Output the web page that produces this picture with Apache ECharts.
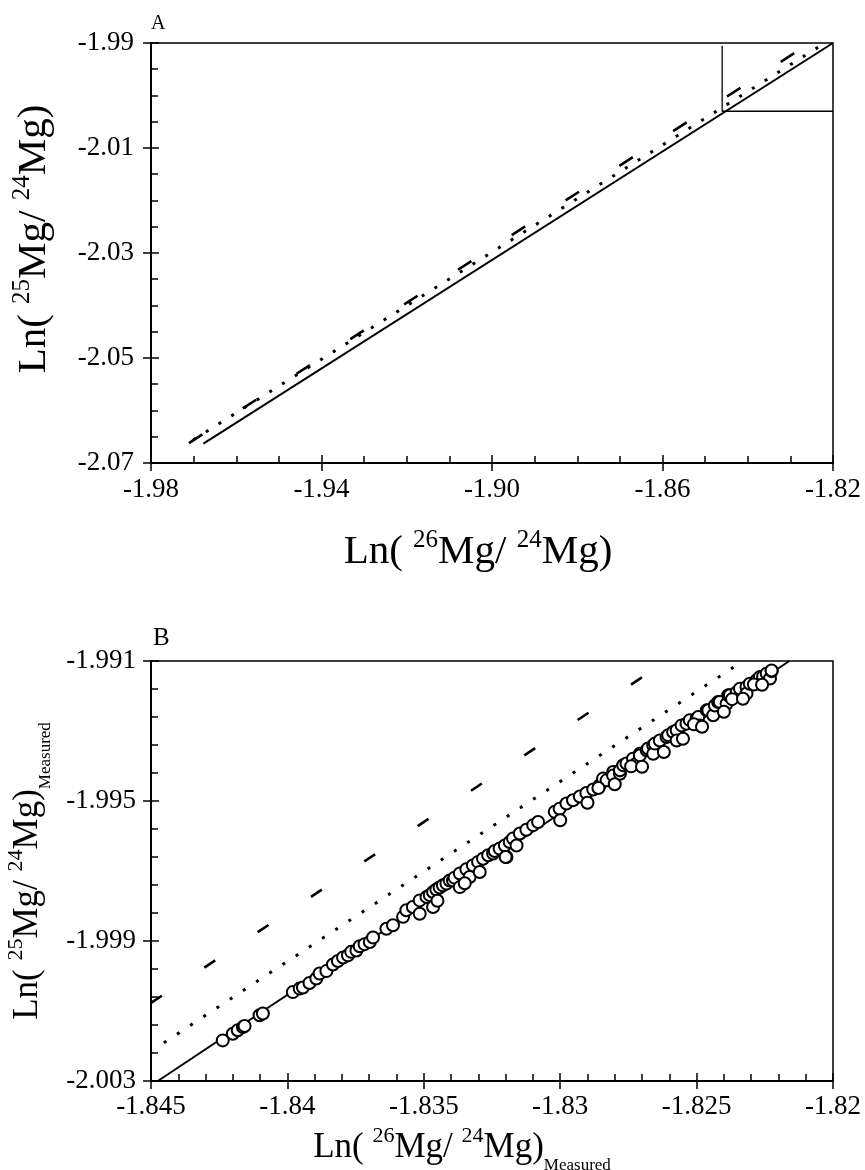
<!DOCTYPE html>
<html><head><meta charset="utf-8">
<script src="https://cdn.jsdelivr.net/npm/echarts@6/dist/echarts.min.js"></script>
<style>html,body{margin:0;padding:0;background:#fff}#c{width:865px;height:1170px}</style>
</head><body><div id="c"></div>
<script>
// ---- tick labels ----
const xTicksA = ['-1.98','-1.94','-1.90','-1.86','-1.82'];
const yTicksA = ['-1.99','-2.01','-2.03','-2.05','-2.07'];
const xTicksB = ['-1.845','-1.84','-1.835','-1.83','-1.825','-1.82'];
const yTicksB = ['-1.991','-1.995','-1.999','-2.003'];

// ---- panel A lines (endpoints [ln26, ln25]) ----
const lineA_solid  = [[-1.9677,-2.0663],[-1.8200,-1.9900]];
const lineA_dashed = [[-1.9711,-2.0662],[-1.8254,-1.9900]];
const lineA_dotted = [[-1.9701,-2.0656],[-1.8219,-1.9900]];
const insetBox     = [[-1.8460,-1.9905],[-1.8460,-2.0030],[-1.8200,-2.0030]];

// ---- panel B lines ----
const lineB_solid  = [[-1.84475,-2.0030],[-1.8216,-1.9910]];
const lineB_dashed = [[-1.8450,-2.00077],[-1.8261,-1.9910]];
const lineB_dotted = [[-1.84453,-2.00191],[-1.8233,-1.9910]];

// ---- panel B measured points ----
const measuredX = [
-1.84237,-1.84200,-1.84182,-1.84163,-1.84157,-1.84102,-1.84090,
-1.83980,-1.83955,-1.83943,-1.83919,-1.83894,-1.83882,-1.83857,-1.83833,-1.83815,-1.83796,-1.83778,
-1.83766,-1.83747,-1.83735,-1.83717,-1.83698,-1.83686,-1.83637,-1.83613,-1.83576,-1.83564,-1.83540,
-1.83515,-1.83515,-1.83490,-1.83478,-1.83466,-1.83466,-1.83454,-1.83442,-1.83430,-1.83417,-1.83405,
-1.83393,-1.83387,-1.83368,-1.83368,-1.83344,-1.83332,-1.83320,-1.83301,-1.83295,-1.83283,-1.83264,
-1.83246,-1.83240,-1.83222,-1.83203,-1.83197,-1.83185,-1.83173,-1.83160,-1.83148,-1.83124,-1.83099,
-1.83081,-1.83020,-1.83002,-1.82977,-1.82953,-1.82928,-1.82904,-1.82879,-1.82855,-1.82843,-1.82830,
-1.82806,-1.82806,-1.82781,-1.82781,-1.82769,-1.82757,-1.82733,-1.82720,-1.82708,-1.82708,-1.82683,
-1.82678,-1.82659,-1.82659,-1.82653,-1.82635,-1.82610,-1.82604,-1.82586,-1.82573,-1.82573,-1.82555,
-1.82537,-1.82525,-1.82500,-1.82494,-1.82488,-1.82463,-1.82457,-1.82439,-1.82433,-1.82421,-1.82415,
-1.82390,-1.82384,-1.82378,-1.82353,-1.82341,-1.82317,-1.82317,-1.82305,-1.82280,-1.82268,-1.82268,
-1.82256,-1.82243,-1.82231,-1.82225,-1.82225,
-1.83450,-1.83350,-1.83200,-1.83000,-1.82900,-1.82860,-1.82800,-1.82740,-1.82700,-1.82620,
-1.82550,-1.82510,-1.82480,-1.82400,-1.82370,-1.82330,-1.82290,-1.82260
];
const measuredY = [
-2.00184,-2.00165,-2.00155,-2.00146,-2.00143,-2.00112,-2.00107,
-2.00046,-2.00036,-2.00033,-2.00020,-2.00007,-1.99993,-1.99986,-1.99967,-1.99957,-1.99947,-1.99941,
-1.99931,-1.99927,-1.99915,-1.99909,-1.99903,-1.99890,-1.99865,-1.99855,-1.99831,-1.99812,-1.99803,
-1.99784,-1.99822,-1.99774,-1.99769,-1.99760,-1.99803,-1.99753,-1.99747,-1.99741,-1.99736,-1.99727,
-1.99727,-1.99719,-1.99707,-1.99746,-1.99695,-1.99717,-1.99684,-1.99674,-1.99703,-1.99665,-1.99655,
-1.99650,-1.99643,-1.99636,-1.99627,-1.99660,-1.99617,-1.99607,-1.99627,-1.99593,-1.99582,-1.99569,
-1.99560,-1.99531,-1.99522,-1.99507,-1.99498,-1.99487,-1.99477,-1.99467,-1.99455,-1.99436,-1.99441,
-1.99417,-1.99427,-1.99422,-1.99412,-1.99398,-1.99393,-1.99379,-1.99393,-1.99365,-1.99370,-1.99355,
-1.99350,-1.99341,-1.99365,-1.99336,-1.99327,-1.99317,-1.99312,-1.99303,-1.99298,-1.99327,-1.99284,
-1.99279,-1.99269,-1.99265,-1.99260,-1.99284,-1.99241,-1.99241,-1.99255,-1.99227,-1.99217,-1.99217,
-1.99222,-1.99198,-1.99198,-1.99189,-1.99179,-1.99174,-1.99193,-1.99165,-1.99155,-1.99146,-1.99165,
-1.99144,-1.99136,-1.99150,-1.99129,-1.99127,
-1.99785,-1.99735,-1.99660,-1.99555,-1.99505,-1.99463,-1.99452,-1.99401,-1.99402,-1.99360,
-1.99322,-1.99281,-1.99288,-1.99245,-1.99209,-1.99208,-1.99167,-1.99168
];

const FONT = '"Liberation Serif", "Times New Roman", serif';
function labelFrom(list) {
  return function (v) {
    let best = list[0], bd = Infinity;
    for (const s of list) { const d = Math.abs(parseFloat(s) - v); if (d < bd) { bd = d; best = s; } }
    return best;
  };
}
const richName = {
  m: { fontFamily: FONT, fontSize: 41, color: '#000', lineHeight: 48, verticalAlign: 'bottom' },
  s: { fontFamily: FONT, fontSize: 25, color: '#000', lineHeight: 48, verticalAlign: 'top', padding: [3, 0, 0, 0] }
};
const richNameB = {
  m: { fontFamily: FONT, fontSize: 35, color: '#000', lineHeight: 44, verticalAlign: 'bottom' },
  s: { fontFamily: FONT, fontSize: 22, color: '#000', lineHeight: 44, verticalAlign: 'top', padding: [4, 0, 0, 0] },
  b: { fontFamily: FONT, fontSize: 17, color: '#000', lineHeight: 44, verticalAlign: 'bottom', padding: [0, 0, -9, 0] }
};

function mainAxis(opts) {
  return Object.assign({
    type: 'value', scale: true,
    axisLine: { show: true, onZero: false, lineStyle: { color: '#000', width: 2 } },
    axisTick: { show: true, inside: true, length: 8, lineStyle: { color: '#000', width: 1.5 } },
    splitLine: { show: false }, minorSplitLine: { show: false }
  }, opts);
}
function outerTicks(opts) {
  return Object.assign({
    type: 'value', scale: true,
    axisLine: { show: false, onZero: false },
    axisTick: { show: true, inside: false, length: 8, lineStyle: { color: '#000', width: 1.5 } },
    minorTick: { show: false },
    splitLine: { show: false },
    axisLabel: { show: false }
  }, opts);
}
function minor(n) { return { show: true, splitNumber: n, length: 7, lineStyle: { color: '#000', width: 1.5 } }; }
function tickLabel(list, margin) { return { color: '#000', fontFamily: FONT, fontSize: 27, margin: margin, formatter: labelFrom(list) }; }

const xA = { min: -1.98, max: -1.82, interval: 0.04 };
const yA = { min: -2.07, max: -1.99, interval: 0.02 };
const xB = { min: -1.845, max: -1.82, interval: 0.005 };
const yB = { min: -2.003, max: -1.991, interval: 0.004 };

const gridBase = { width: 682, height: 420, show: true, borderColor: '#000', borderWidth: 1.5,
  backgroundColor: 'transparent', containLabel: false, outerBoundsMode: 'none' };

const chart = echarts.init(document.getElementById('c'), null, { renderer: 'canvas' });
chart.setOption({
  backgroundColor: '#fff',
  animation: false,
  title: [
    { text: 'A', left: 146, top: 9, textStyle: { fontFamily: FONT, fontSize: 20, fontWeight: 'normal', color: '#000' } },
    { text: 'B', left: 148, top: 621, textStyle: { fontFamily: FONT, fontSize: 25, fontWeight: 'normal', color: '#000' } }
  ],
  grid: [
    Object.assign({ left: 151, top: 43 }, gridBase),
    Object.assign({ left: 151, top: 661 }, gridBase)
  ],
  xAxis: [
    mainAxis(Object.assign({ gridIndex: 0, position: 'bottom', minorTick: minor(4), axisLabel: tickLabel(xTicksA, 13),
      name: '{m|Ln( }{s|26}{m|Mg/ }{s|24}{m|Mg)}', nameLocation: 'middle', nameGap: 62,
      nameTextStyle: { rich: richName, padding: [0, 28, 0, 0] } }, xA)),
    outerTicks(Object.assign({ gridIndex: 0, position: 'bottom' }, xA)),
    mainAxis(Object.assign({ gridIndex: 1, position: 'bottom', minorTick: minor(5), axisLabel: tickLabel(xTicksB, 12),
      name: '{m|Ln( }{s|26}{m|Mg/ }{s|24}{m|Mg)}{b|Measured}', nameLocation: 'middle', nameGap: 40,
      nameTextStyle: { rich: richNameB, padding: [0, 60, 0, 0] } }, xB)),
    outerTicks(Object.assign({ gridIndex: 1, position: 'bottom' }, xB))
  ],
  yAxis: [
    mainAxis(Object.assign({ gridIndex: 0, position: 'left', minorTick: minor(4), axisLabel: tickLabel(yTicksA, 17),
      name: '{m|Ln( }{s|25}{m|Mg/ }{s|24}{m|Mg)}', nameLocation: 'middle', nameGap: 96, nameRotate: 90,
      nameTextStyle: { rich: richName, padding: [0, 0, 0, 28] } }, yA)),
    outerTicks(Object.assign({ gridIndex: 0, position: 'left' }, yA)),
    mainAxis(Object.assign({ gridIndex: 1, position: 'left', minorTick: minor(5), axisLabel: tickLabel(yTicksB, 15),
      name: '{m|Ln( }{s|25}{m|Mg/ }{s|24}{m|Mg)}{b|Measured}', nameLocation: 'middle', nameGap: 106, nameRotate: 90,
      nameTextStyle: { rich: richNameB } }, yB)),
    outerTicks(Object.assign({ gridIndex: 1, position: 'left' }, yB))
  ],
  series: [
    { type: 'line', xAxisIndex: 0, yAxisIndex: 0, data: lineA_solid, showSymbol: false, symbol: 'none',
      lineStyle: { color: '#000', width: 2 } },
    { type: 'line', xAxisIndex: 0, yAxisIndex: 0, data: lineA_dashed, showSymbol: false, symbol: 'none',
      lineStyle: { color: '#000', width: 2.6, type: [16, 48] } },
    { type: 'line', xAxisIndex: 0, yAxisIndex: 0, data: lineA_dotted, showSymbol: false, symbol: 'none',
      lineStyle: { color: '#000', width: 3, type: [3, 12] } },
    { type: 'line', xAxisIndex: 0, yAxisIndex: 0, data: insetBox, showSymbol: false, symbol: 'none',
      lineStyle: { color: '#000', width: 1.3 } },
    { type: 'line', xAxisIndex: 2, yAxisIndex: 2, data: lineB_solid, showSymbol: false, symbol: 'none',
      lineStyle: { color: '#000', width: 2 } },
    { type: 'line', xAxisIndex: 2, yAxisIndex: 2, data: lineB_dashed, showSymbol: false, symbol: 'none',
      lineStyle: { color: '#000', width: 2.6, type: [13, 51] } },
    { type: 'line', xAxisIndex: 2, yAxisIndex: 2, data: lineB_dotted, showSymbol: false, symbol: 'none',
      lineStyle: { color: '#000', width: 3, type: [3, 12.8] } },
    { type: 'scatter', xAxisIndex: 2, yAxisIndex: 2, symbol: 'circle', symbolSize: 12,
      data: measuredX.map((x, i) => [x, measuredY[i]]),
      itemStyle: { color: '#fff', borderColor: '#000', borderWidth: 2, opacity: 1 }, z: 5 }
  ]
});
</script></body></html>
